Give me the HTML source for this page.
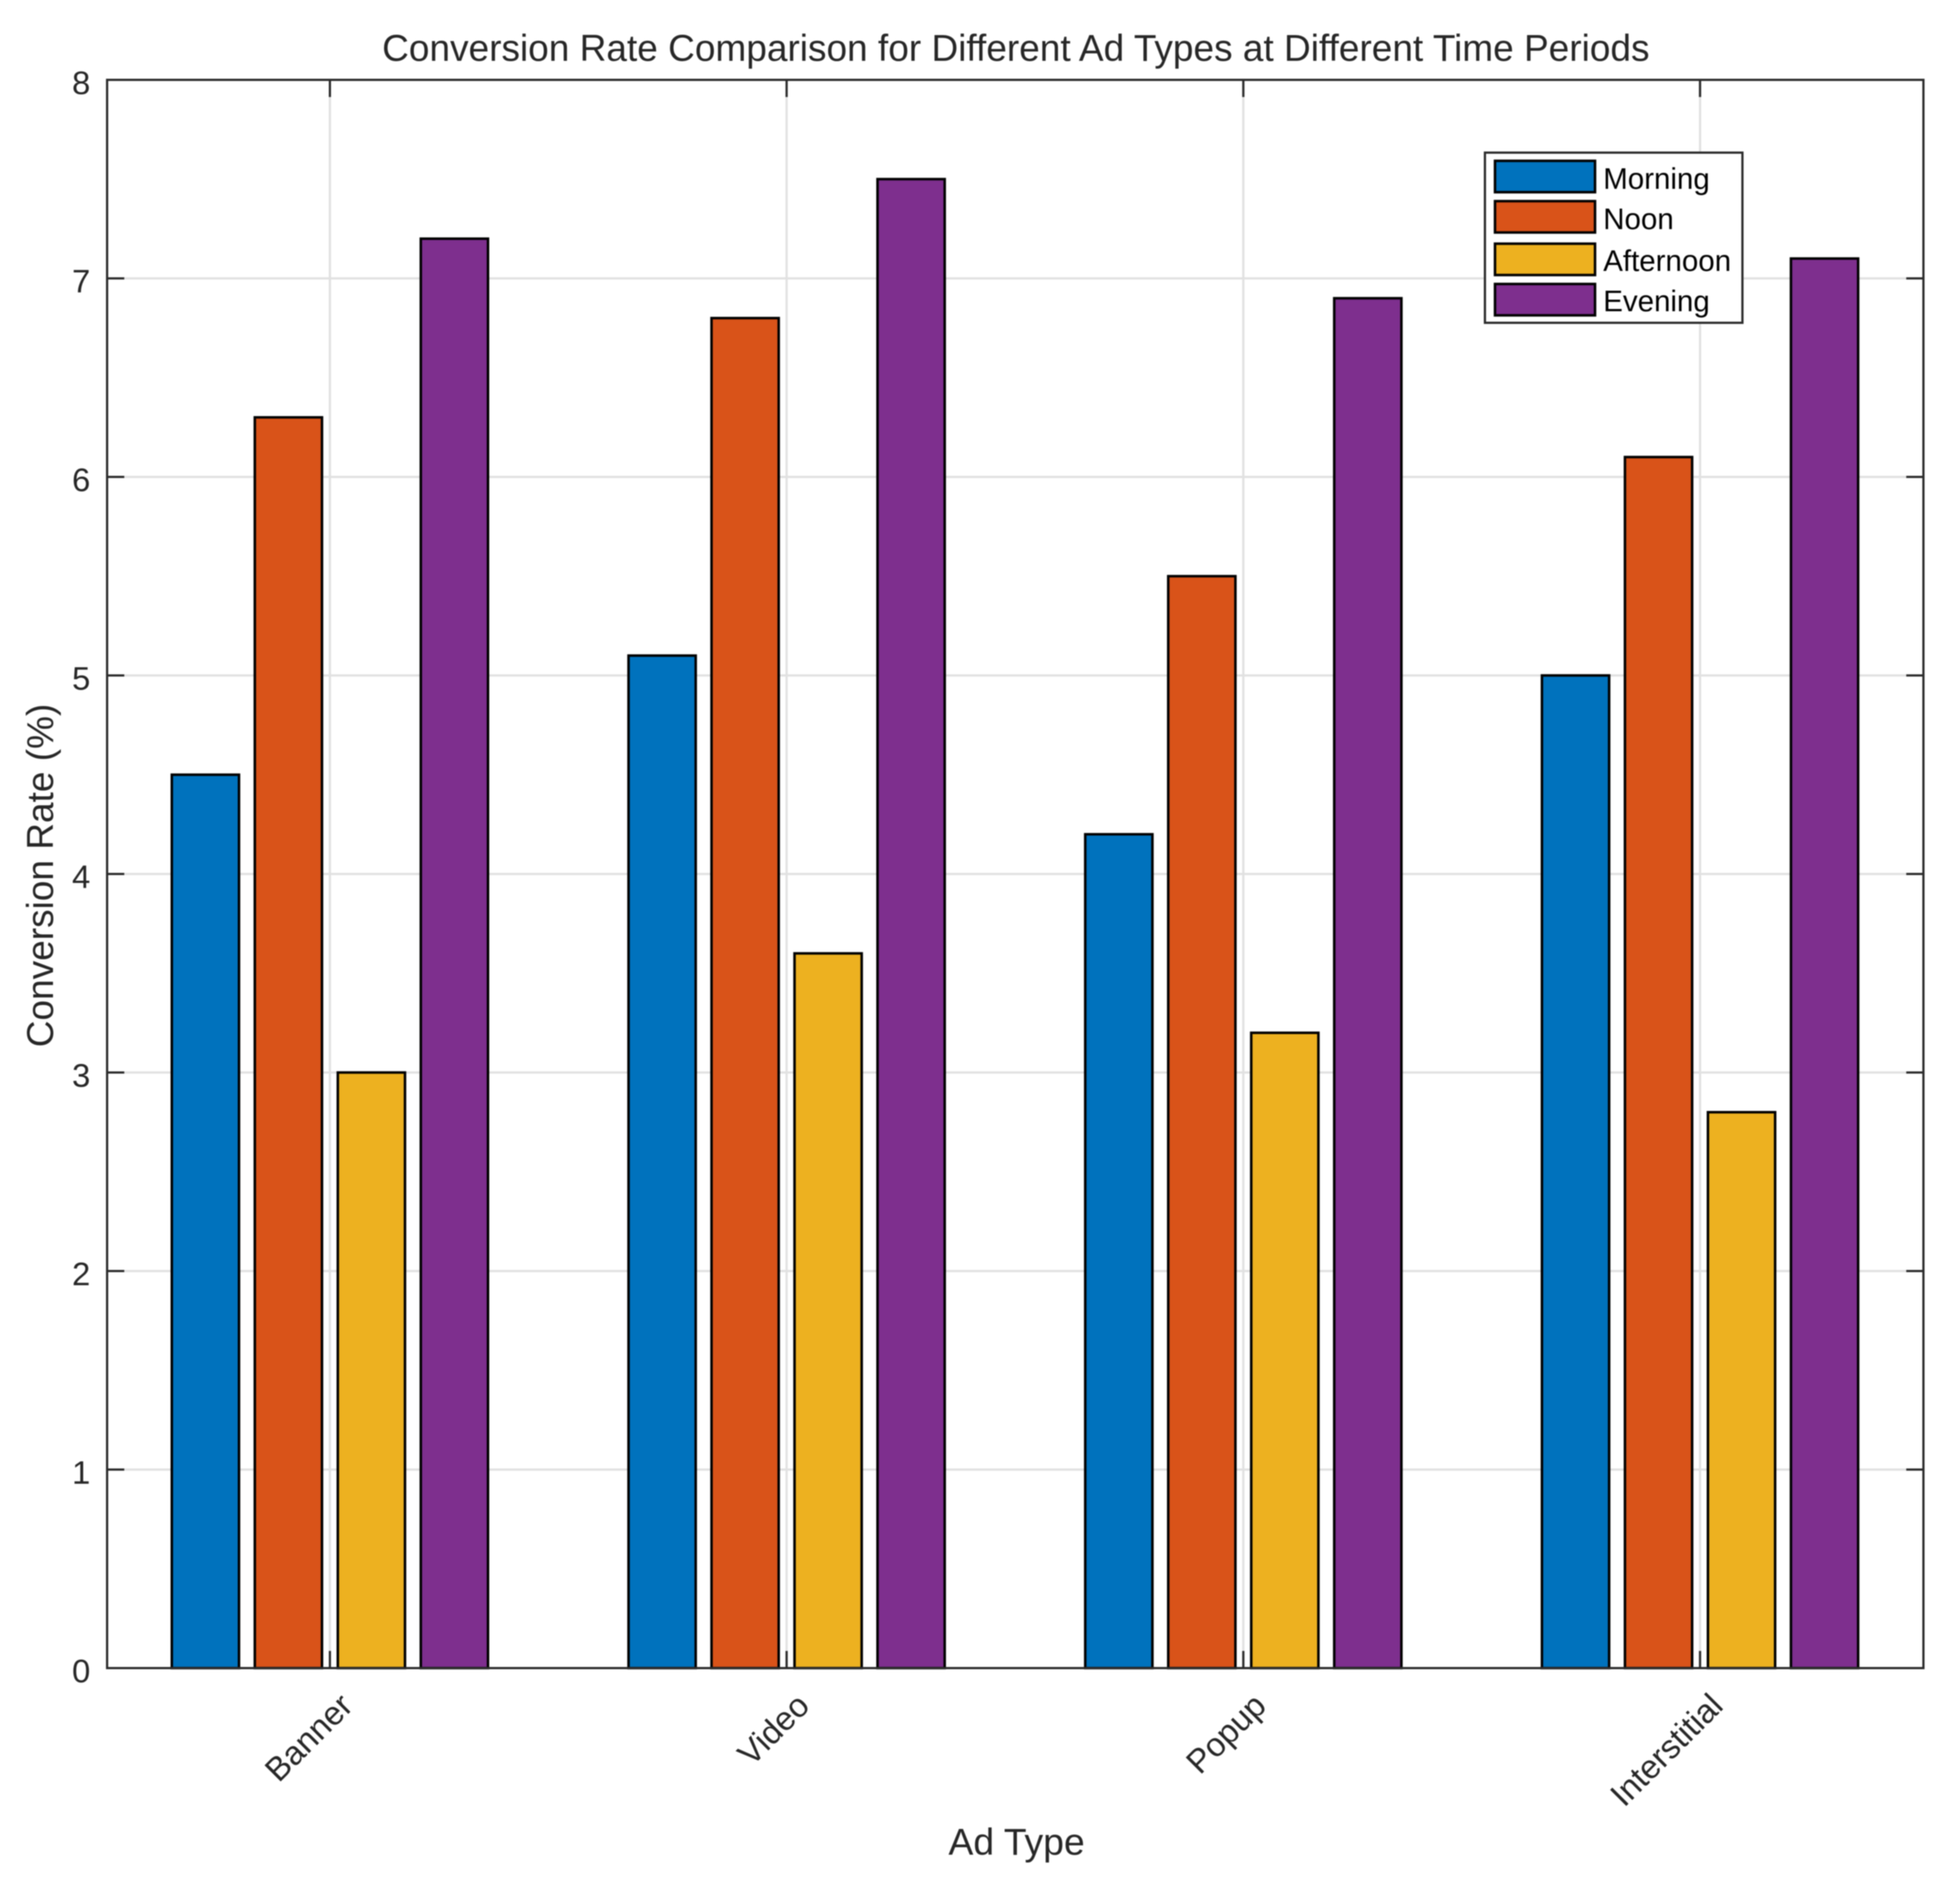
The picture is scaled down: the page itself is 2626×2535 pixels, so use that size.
<!DOCTYPE html>
<html lang="en">
<head>
<meta charset="utf-8">
<title>Conversion Rate Comparison</title>
<style>
  html, body { margin: 0; padding: 0; background: #fff; }
  body { width: 2626px; height: 2535px; overflow: hidden; }
  svg { display: block; font-family: "Liberation Sans", Arial, sans-serif; filter: blur(0.7px); }
  text { fill: #262626; }
</style>
</head>
<body>
<svg id="chart" xmlns="http://www.w3.org/2000/svg" width="2626" height="2535" viewBox="0 0 2626 2535">
  <rect x="0" y="0" width="2626" height="2535" fill="#ffffff"></rect>
  <g id="grid"></g>
  <g id="bars"></g>
  <g id="ticks"></g>
  <rect x="143.5" y="107" width="2433.5" height="2128" fill="none" stroke="#2b2b2b" stroke-width="3"></rect>
  <g id="ylabels"></g>
  <g id="xlabels"></g>
  <text x="1361" y="81.5" font-size="49.6" text-anchor="middle">Conversion Rate Comparison for Different Ad Types at Different Time Periods</text>
  <text x="1362" y="2485" font-size="50" text-anchor="middle">Ad Type</text>
  <text transform="translate(71 1173) rotate(-90)" font-size="49.6" text-anchor="middle">Conversion Rate (%)</text>
  <g id="legend"></g>
</svg>
<script>
const categories = ["Banner", "Video", "Popup", "Interstitial"];
const seriesNames = ["Morning", "Noon", "Afternoon", "Evening"];
const seriesColors = ["#0072BD", "#D95319", "#EDB120", "#7E2F8E"];
const morning = [4.5, 5.1, 4.2, 5.0];
const noon = [6.3, 6.8, 5.5, 6.1];
const afternoon = [3.0, 3.6, 3.2, 2.8];
const evening = [7.2, 7.5, 6.9, 7.1];
const yTickLabels = [0, 1, 2, 3, 4, 5, 6, 7, 8];

const NS = "http://www.w3.org/2000/svg";
const series = [morning, noon, afternoon, evening];
const plot = { left: 143.5, right: 2577, top: 107, bottom: 2235 };
const yMax = 8;
const firstCategoryX = 442;
const categoryStep = 611.9;
const barPitch = 111.2;
const barWidth = 90;
const tickLength = 23;

function xScale(categoryIndex) {
  return firstCategoryX + categoryIndex * categoryStep;
}
function yScale(value) {
  return plot.bottom - (value / yMax) * (plot.bottom - plot.top);
}
function shape(tag, attrs, parent) {
  const el = document.createElementNS(NS, tag);
  for (const key in attrs) {
    el.setAttribute(key, attrs[key]);
  }
  parent.appendChild(el);
  return el;
}

const gridGroup = document.getElementById("grid");
const barGroup = document.getElementById("bars");
const tickGroup = document.getElementById("ticks");
const yLabelGroup = document.getElementById("ylabels");
const xLabelGroup = document.getElementById("xlabels");
const legendGroup = document.getElementById("legend");

yTickLabels.forEach(function (tick) {
  const y = yScale(tick);
  const line = shape("line", { x1: plot.left, x2: plot.right, y1: y, y2: y, stroke: "#e1e1e1", "stroke-width": 3 }, gridGroup);
  
  
  const leftTick = shape("line", { x1: plot.left, x2: plot.left + tickLength, y1: y, y2: y, stroke: "#2b2b2b", "stroke-width": 3 }, tickGroup);
  
  
  const rightTick = shape("line", { x1: plot.right - tickLength, x2: plot.right, y1: y, y2: y, stroke: "#2b2b2b", "stroke-width": 3 }, tickGroup);
  
  
  const label = shape("text", { x: 121, y: y + 19, "font-size": 44, "text-anchor": "end" }, yLabelGroup);
  label.textContent = String(tick);
  
  
});

categories.forEach(function (category, c) {
  const x = xScale(c);
  const line = shape("line", { x1: x, x2: x, y1: plot.top, y2: plot.bottom, stroke: "#e1e1e1", "stroke-width": 3 }, gridGroup);
  
  
  const topTick = shape("line", { x1: x, x2: x, y1: plot.top, y2: plot.top + tickLength, stroke: "#2b2b2b", "stroke-width": 3 }, tickGroup);
  
  
  const bottomTick = shape("line", { x1: x, x2: x, y1: plot.bottom - tickLength, y2: plot.bottom, stroke: "#2b2b2b", "stroke-width": 3 }, tickGroup);
  
  
  const labelX = x + 33;
  const labelY = 2288;
  const label = shape("text", { x: labelX, y: labelY, "font-size": 44.5, "text-anchor": "end", transform: "rotate(-45 " + labelX + " " + labelY + ")" }, xLabelGroup);
  label.textContent = category;
  
  
});

series.forEach(function (values, s) {
  values.forEach(function (value, c) {
    const center = xScale(c) + (s - (series.length - 1) / 2) * barPitch;
    const top = yScale(value);
    const bar = shape("rect", {
      x: center - barWidth / 2,
      y: top,
      width: barWidth,
      height: plot.bottom - top,
      fill: seriesColors[s],
      stroke: "#000000",
      "stroke-width": 3.4
    }, barGroup);
    
    
  });
});

const legendBox = shape("rect", { x: 1989.5, y: 204.5, width: 345, height: 228, fill: "#ffffff", stroke: "#2b2b2b", "stroke-width": 3 }, legendGroup);


const legendRowTops = [215.5, 269.5, 326.5, 380.5];
const legendBaselines = [253, 307, 363, 417];
seriesNames.forEach(function (name, s) {
  const swatch = shape("rect", { x: 2003, y: legendRowTops[s], width: 134, height: 42, fill: seriesColors[s], stroke: "#000000", "stroke-width": 3.4 }, legendGroup);
  
  
  const entry = shape("text", { x: 2148, y: legendBaselines[s], "font-size": 39.5, style: "fill:#000000" }, legendGroup);
  entry.textContent = name;
  
  
});
</script>
</body>
</html>
